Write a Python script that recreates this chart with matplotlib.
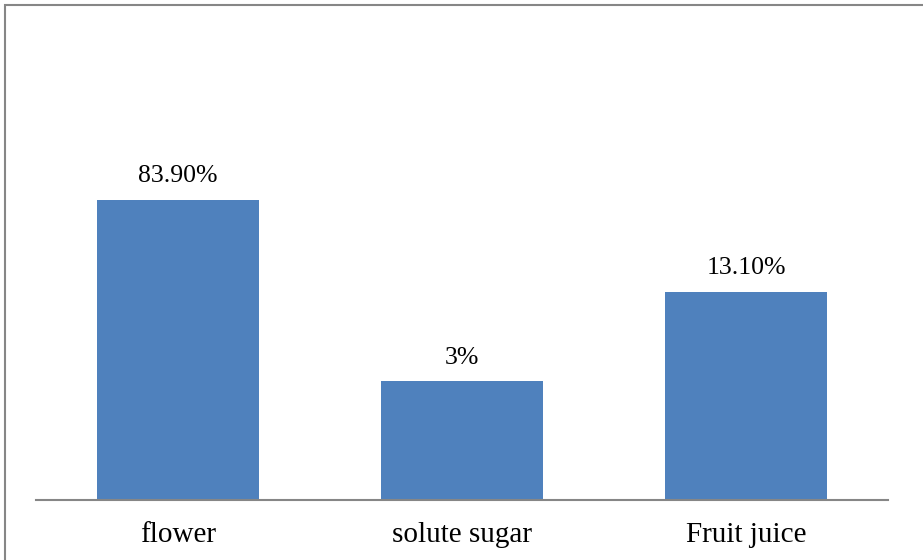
import matplotlib.pyplot as plt
from matplotlib.patches import Rectangle

categories = ['flower', 'solute sugar', 'Fruit juice']
value_labels = ['83.90%', '3%', '13.10%']
# bar heights as drawn in the reference (not proportional to the labels)
bar_heights = [30.0, 11.9, 20.8]

plt.rcParams['font.family'] = ['Liberation Serif', 'DejaVu Serif']

fig = plt.figure(figsize=(9.23, 5.6), dpi=100)
ax = fig.add_axes([36 / 923, 60 / 560, 852 / 923, 495 / 560])

x = range(len(categories))
bars = ax.bar(x, bar_heights, width=0.573, color='#4F81BD')
for b, lab in zip(bars, value_labels):
    ax.annotate(lab, (b.get_x() + b.get_width() / 2, b.get_height()),
                xytext=(0, 9), textcoords='offset points',
                ha='center', va='bottom', fontsize=18.5)

ax.set_xlim(-0.5, 2.5)
ax.set_ylim(0, 49.5)
ax.set_xticks(list(x))
ax.set_xticklabels(categories, fontsize=21)
ax.tick_params(axis='x', length=0, pad=16)
ax.set_yticks([])
for s in ['top', 'right', 'left']:
    ax.spines[s].set_visible(False)
ax.spines['bottom'].set_color('#868686')
ax.spines['bottom'].set_linewidth(1.5)

# outer chart border
fig.patches.append(Rectangle((5 / 923, -0.1), 1.2, 1.1 - 4.5 / 560,
                             transform=fig.transFigure, fill=False,
                             edgecolor='#868686', linewidth=1.5))

fig.savefig('out.png', dpi=100)
